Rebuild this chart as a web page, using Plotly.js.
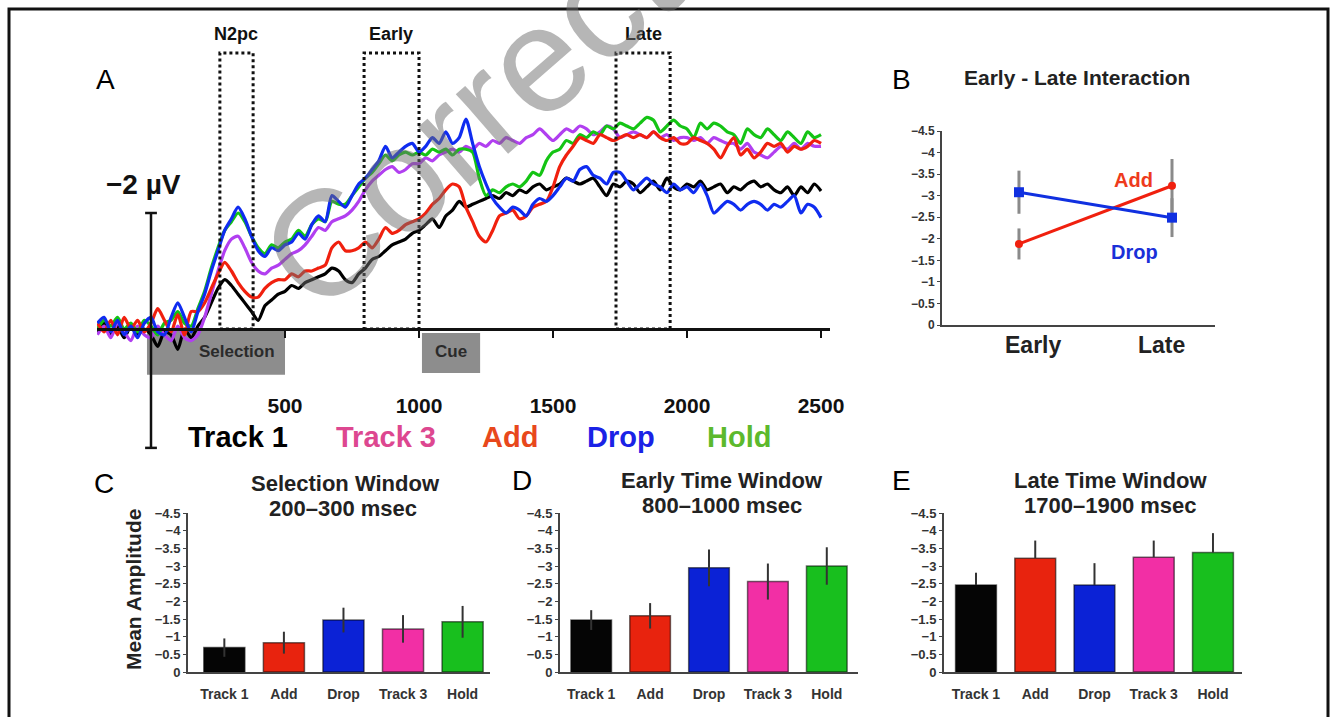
<!DOCTYPE html>
<html><head><meta charset="utf-8">
<script src="https://cdn.plot.ly/plotly-3.0.1.min.js"></script>
<style>html,body{margin:0;padding:0;background:#fff}#chart{width:1336px;height:717px}</style>
</head><body><div id="chart"></div>
<script>
// ---------- Panel A: ERP waveforms (µV, negative up) ----------
const timesMs = [
 -200,-175,-150,-125,-100,-75,-50,-25,
 0,25,50,75,100,125,150,175,
 200,225,250,275,300,325,350,375,
 400,425,450,475,500,525,550,575,
 600,625,650,675,700,725,750,775,
 800,825,850,875,900,925,950,975,
 1000,1025,1050,1075,1100,1125,1150,1175,
 1200,1225,1250,1275,1300,1325,1350,1375,
 1400,1425,1450,1475,1500,1525,1550,1575,
 1600,1625,1650,1675,1700,1725,1750,1775,
 1800,1825,1850,1875,1900,1925,1950,1975,
 2000,2025,2050,2075,2100,2125,2150,2175,
 2200,2225,2250,2275,2300,2325,2350,2375,
 2400,2425,2450,2475,2500];
const track1 = [
 0.05,-0.1,0.1,-0.05,0.15,-0.05,0.1,0.0,
 0.1,0.3,0.05,0.1,0.35,0.0,0.15,-0.05,
 -0.2,-0.45,-0.7,-0.85,-0.75,-0.6,-0.45,-0.3,
 -0.15,-0.4,-0.5,-0.6,-0.65,-0.75,-0.7,-0.8,
 -0.85,-0.9,-0.95,-1.05,-1.0,-0.85,-0.8,-0.95,
 -1.05,-1.2,-1.25,-1.35,-1.45,-1.5,-1.55,-1.65,
 -1.7,-1.8,-1.9,-1.75,-1.95,-2.05,-2.2,-2.1,
 -2.15,-2.2,-2.25,-2.3,-2.25,-2.35,-2.3,-2.4,
 -2.35,-2.45,-2.5,-2.4,-2.45,-2.5,-2.6,-2.55,
 -2.5,-2.55,-2.6,-2.45,-2.3,-2.5,-2.45,-2.55,
 -2.5,-2.35,-2.45,-2.55,-2.4,-2.6,-2.45,-2.4,
 -2.5,-2.45,-2.55,-2.4,-2.45,-2.5,-2.35,-2.45,
 -2.4,-2.5,-2.55,-2.45,-2.5,-2.4,-2.35,-2.45,
 -2.3,-2.45,-2.35,-2.5,-2.38];
const track3 = [
 0.1,-0.05,0.15,-0.1,0.05,0.2,-0.05,0.1,
 0.15,-0.05,0.1,0.2,-0.05,0.15,0.2,0.1,
 -0.2,-0.6,-1.0,-1.35,-1.55,-1.6,-1.4,-1.15,
 -1.0,-0.95,-1.05,-1.1,-1.2,-1.3,-1.35,-1.45,
 -1.6,-1.75,-1.7,-1.85,-1.9,-1.95,-2.05,-2.2,
 -2.4,-2.55,-2.65,-2.75,-2.8,-2.7,-2.75,-2.85,
 -2.85,-2.95,-2.9,-3.0,-3.05,-3.1,-3.05,-3.15,
 -3.1,-3.2,-3.15,-3.25,-3.2,-3.3,-3.25,-3.2,
 -3.3,-3.35,-3.45,-3.35,-3.25,-3.35,-3.45,-3.4,
 -3.5,-3.45,-3.35,-3.4,-3.5,-3.45,-3.3,-3.35,
 -3.4,-3.35,-3.3,-3.4,-3.3,-3.35,-3.25,-3.3,
 -3.3,-3.25,-3.3,-3.2,-3.3,-3.25,-3.2,-3.2,
 -3.1,-3.2,-3.05,-3.0,-2.95,-3.05,-3.15,-3.1,
 -3.2,-3.1,-3.2,-3.15,-3.15];
const addWave = [
 -0.1,0.05,-0.15,0.1,-0.2,0.0,-0.15,0.05,
 -0.1,-0.35,-0.15,0.05,-0.25,0.1,-0.3,-0.3,
 -0.45,-0.7,-0.95,-1.15,-1.0,-0.8,-0.65,-0.55,
 -0.55,-0.7,-0.8,-0.85,-0.85,-0.95,-0.9,-1.0,
 -1.0,-1.05,-1.1,-1.4,-1.5,-1.35,-1.35,-1.4,
 -1.5,-1.4,-1.55,-1.75,-1.65,-1.7,-1.8,-1.85,
 -1.9,-2.0,-2.15,-2.25,-2.4,-2.5,-2.45,-2.1,
 -1.85,-1.6,-1.5,-1.7,-1.95,-2.0,-2.05,-1.9,
 -1.95,-2.1,-2.15,-2.2,-2.45,-2.8,-3.0,-3.15,
 -3.3,-3.25,-3.2,-3.35,-3.3,-3.25,-3.3,-3.35,
 -3.3,-3.35,-3.3,-3.4,-3.3,-3.25,-3.3,-3.2,
 -3.2,-3.3,-3.25,-3.2,-3.1,-2.95,-3.15,-3.3,
 -3.0,-3.1,-2.95,-3.05,-3.2,-3.15,-3.2,-3.05,
 -3.15,-3.1,-3.15,-3.25,-3.2];
const dropWave = [
 -0.1,-0.2,0.05,-0.15,0.1,-0.05,0.15,-0.1,
 -0.2,0.05,0.1,-0.2,-0.45,-0.2,0.05,-0.3,
 -0.6,-1.0,-1.35,-1.7,-1.9,-2.1,-1.9,-1.6,
 -1.35,-1.25,-1.4,-1.35,-1.45,-1.5,-1.65,-1.55,
 -1.8,-1.95,-1.85,-2.3,-2.2,-2.1,-2.3,-2.5,
 -2.6,-2.75,-2.9,-3.15,-2.95,-3.05,-3.15,-3.2,
 -3.05,-3.15,-3.3,-3.2,-3.4,-3.2,-3.3,-3.62,
 -3.2,-2.8,-2.5,-2.25,-2.1,-2.0,-2.1,-2.05,
 -1.95,-2.15,-2.25,-2.2,-2.3,-2.45,-2.6,-2.55,
 -2.75,-2.8,-2.65,-2.6,-2.5,-2.7,-2.7,-2.55,
 -2.4,-2.5,-2.6,-2.5,-2.45,-2.35,-2.5,-2.4,
 -2.45,-2.35,-2.5,-2.3,-2.0,-2.1,-2.2,-2.15,
 -2.05,-2.15,-2.2,-2.15,-2.05,-2.15,-2.1,-2.2,
 -2.3,-2.0,-2.15,-2.1,-1.92];
const holdWave = [
 0.0,-0.15,-0.05,-0.2,0.0,-0.1,0.05,-0.15,
 -0.05,0.1,-0.1,-0.15,-0.3,-0.1,-0.05,-0.35,
 -0.65,-1.05,-1.4,-1.7,-1.85,-2.0,-1.85,-1.6,
 -1.4,-1.3,-1.45,-1.4,-1.5,-1.55,-1.7,-1.6,
 -1.8,-1.9,-1.85,-2.2,-2.15,-2.15,-2.3,-2.45,
 -2.6,-2.7,-2.85,-3.0,-2.9,-3.0,-3.05,-3.0,
 -3.05,-3.0,-3.1,-3.05,-3.1,-3.0,-3.1,-3.1,
 -3.05,-2.6,-2.3,-2.4,-2.35,-2.45,-2.5,-2.45,
 -2.55,-2.7,-2.65,-2.9,-3.05,-3.1,-3.25,-3.2,
 -3.35,-3.3,-3.4,-3.35,-3.5,-3.45,-3.55,-3.5,
 -3.45,-3.55,-3.65,-3.6,-3.4,-3.5,-3.6,-3.5,
 -3.45,-3.3,-3.55,-3.45,-3.55,-3.5,-3.4,-3.35,
 -3.2,-3.45,-3.35,-3.3,-3.45,-3.35,-3.25,-3.4,
 -3.3,-3.2,-3.4,-3.3,-3.35];
const waveTicks = [500, 1000, 1500, 2000, 2500];

// ---------- Panel B: Early - Late interaction ----------
const windows = ['Early', 'Late'];
const addMeans = [-1.88, -3.23];
const addErr = [0.36, 0.62];
const dropMeans = [-3.08, -2.49];
const dropErr = [0.5, 0.45];

// ---------- Panels C, D, E: mean amplitude bars ----------
const conditions = ['Track 1', 'Add', 'Drop', 'Track 3', 'Hold'];
const selectionMeans = [-0.69, -0.83, -1.47, -1.22, -1.42];
const selectionErr = [0.26, 0.31, 0.35, 0.39, 0.45];
const earlyMeans = [-1.47, -1.59, -2.95, -2.56, -3.0];
const earlyErr = [0.28, 0.36, 0.52, 0.51, 0.53];
const lateMeans = [-2.46, -3.22, -2.46, -3.25, -3.38];
const lateErr = [0.35, 0.5, 0.62, 0.47, 0.55];

const barColors = ['#050505', '#e8230e', '#0b22d6', '#f22fa5', '#18bf1e'];
const waveColors = {track1:'#000000', track3:'#b13ff0', add:'#f0200e', drop:'#0f2cf0', hold:'#14c414'};

// ---------- helpers ----------
const W = 1336, H = 717;
const px = X => X / W;
const py = Y => 1 - Y / H;
const FONT = 'Liberation Sans, Arial, Helvetica, sans-serif';

function ann(text, X, Y, size, color, bold, extra) {
  return Object.assign({
    text: text, xref: 'paper', yref: 'paper', x: px(X), y: py(Y),
    xanchor: 'center', yanchor: 'middle', showarrow: false,
    font: {family: FONT, size: size, color: color || '#000', weight: bold ? 'bold' : 'normal'}
  }, extra || {});
}

const traces = [];
// Panel A
[['track1', track1], ['track3', track3], ['hold', holdWave], ['add', addWave], ['drop', dropWave]].forEach(([k, v]) => {
  traces.push({x: timesMs, y: v, xaxis: 'x', yaxis: 'y', type: 'scatter', mode: 'lines',
    line: {color: waveColors[k], width: 3.2, shape: 'spline', smoothing: 0.7}, hoverinfo: 'skip', showlegend: false});
});
// Panel B
traces.push({x: windows, y: addMeans, xaxis: 'x2', yaxis: 'y2', type: 'scatter', mode: 'lines+markers',
  line: {color: '#f0200e', width: 3}, marker: {symbol: 'circle', size: 8, color: '#f0200e'},
  error_y: {type: 'data', array: addErr, visible: true, color: '#8a8a8a', thickness: 3, width: 0}, showlegend: false});
traces.push({x: windows, y: dropMeans, xaxis: 'x2', yaxis: 'y2', type: 'scatter', mode: 'lines+markers',
  line: {color: '#1030e0', width: 3}, marker: {symbol: 'square', size: 10, color: '#1030e0'},
  error_y: {type: 'data', array: dropErr, visible: true, color: '#8a8a8a', thickness: 3, width: 0}, showlegend: false});
// Panels C D E
function bars(means, errs, ax, upOnly) {
  const e = {type: 'data', array: errs, visible: true, color: '#333', thickness: 2, width: 0};
  if (upOnly) { e.symmetric = false; e.array = errs.map(() => 0); e.arrayminus = errs; }
  return {x: conditions, y: means, xaxis: 'x' + ax, yaxis: 'y' + ax, type: 'bar', width: 0.69,
    marker: {color: barColors, line: {color: 'rgba(0,0,0,0.55)', width: 1.5}}, error_y: e, showlegend: false};
}
traces.push(bars(selectionMeans, selectionErr, 3, false));
traces.push(bars(earlyMeans, earlyErr, 4, false));
traces.push(bars(lateMeans, lateErr, 5, true));

const barYaxis = (dom) => ({domain: dom, range: [0, -4.5], dtick: 0.5, tick0: 0, showgrid: false, zeroline: false,
  showline: true, linecolor: '#444', linewidth: 2, ticks: 'outside', ticklen: 3, tickcolor: '#444',
  tickfont: {family: FONT, size: 13, color: '#333', weight: 'bold'}});
const barXaxis = (dom, rng, anchor) => ({domain: dom, range: rng, anchor: anchor, type: 'category', showgrid: false, zeroline: false,
  showline: true, linecolor: '#444', linewidth: 2, ticks: '', ticklabelstandoff: 8,
  tickfont: {family: FONT, size: 14, color: '#333', weight: 'bold'}});

const barDom = [py(672), py(513)];

const layout = {
  width: W, height: H, margin: {l: 0, r: 0, t: 0, b: 0},
  paper_bgcolor: '#fff', plot_bgcolor: 'rgba(0,0,0,0)', showlegend: false,
  font: {family: FONT},
  xaxis: {domain: [px(97), px(830)], range: [-201.5, 2533.5], anchor: 'free', position: py(329),
    showline: true, linecolor: '#111', linewidth: 2.5, ticks: 'outside', ticklen: 7, tickwidth: 2.5, tickcolor: '#111',
    tickvals: waveTicks, ticklabelstandoff: 50, showgrid: false, zeroline: false,
    tickfont: {family: FONT, size: 21, color: '#111', weight: 'bold'}},
  yaxis: {domain: [py(460), py(40)], range: [2.259, -4.983], visible: false, anchor: 'x'},
  xaxis2: {domain: [px(942), px(1215)], range: [-0.503, 1.281], type: 'category', anchor: 'y2', showgrid: false, zeroline: false,
    showline: true, linecolor: '#444', linewidth: 2, ticks: '', showticklabels: false},
  yaxis2: {domain: [py(325), py(131)], range: [0, -4.5], dtick: 0.5, tick0: 0, anchor: 'x2', showgrid: false, zeroline: false,
    showline: true, linecolor: '#444', linewidth: 2, ticks: 'outside', ticklen: 3, tickcolor: '#444',
    tickfont: {family: FONT, size: 12, color: '#333', weight: 'bold'}},
  xaxis3: barXaxis([px(188), px(490)], [-0.61, 4.46], 'y3'),
  yaxis3: Object.assign(barYaxis(barDom), {anchor: 'x3'}),
  xaxis4: barXaxis([px(560), px(858)], [-0.53, 4.53], 'y4'),
  yaxis4: Object.assign(barYaxis(barDom), {anchor: 'x4'}),
  xaxis5: barXaxis([px(944), px(1242)], [-0.54, 4.49], 'y5'),
  yaxis5: Object.assign(barYaxis(barDom), {anchor: 'x5'}),
  shapes: [
    // figure frame
    {type: 'rect', xref: 'paper', yref: 'paper', x0: px(9), x1: px(1328), y0: py(730), y1: py(9), line: {color: '#111', width: 3}},
    // event boxes
    {type: 'rect', xref: 'x', yref: 'y', x0: -15, x1: 500, y0: 0.02, y1: 0.79, fillcolor: '#8d8d8d', line: {width: 0}, layer: 'below'},
    {type: 'rect', xref: 'x', yref: 'y', x0: 1011, x1: 1228, y0: 0.07, y1: 0.76, fillcolor: '#8d8d8d', line: {width: 0}, layer: 'below'},
    // analysis windows
    {type: 'rect', xref: 'x', yref: 'y', x0: 257, x1: 381, y0: 0, y1: -4.76, line: {color: '#111', width: 3, dash: 'dot'}},
    {type: 'rect', xref: 'x', yref: 'y', x0: 795, x1: 1000, y0: 0, y1: -4.76, line: {color: '#111', width: 3, dash: 'dot'}},
    {type: 'rect', xref: 'x', yref: 'y', x0: 1735, x1: 1937, y0: 0, y1: -4.76, line: {color: '#111', width: 3, dash: 'dot'}},
    // scale bar
    {type: 'line', xref: 'x', yref: 'y', x0: 0, x1: 0, y0: -2, y1: 2.05, line: {color: '#111', width: 2.5}},
    {type: 'line', xref: 'x', yref: 'y', x0: -22, x1: 22, y0: -2, y1: -2, line: {color: '#111', width: 2.5}},
    {type: 'line', xref: 'x', yref: 'y', x0: -22, x1: 22, y0: 2.05, y1: 2.05, line: {color: '#111', width: 2.5}}
  ],
  annotations: [
    ann('A', 105, 80, 28, '#000', false),
    ann('N2pc', 236, 34, 18, '#111', true),
    ann('Early', 391, 34, 18, '#111', true),
    ann('Late', 643, 34, 18, '#111', true),
    ann('\u22122 \u00b5V', 143, 184, 28, '#111', true),
    ann('Selection', 237, 352, 17, '#2a2a2a', true),
    ann('Cue', 451, 352, 17, '#2a2a2a', true),
    ann('Track 1', 238, 437, 29, '#000', true),
    ann('Track 3', 386, 437, 29, '#dd4790', true),
    ann('Add', 510, 437, 29, '#e8481c', true),
    ann('Drop', 621, 437, 29, '#1a22e6', true),
    ann('Hold', 739, 437, 29, '#5cb92d', true),
    ann('B', 901, 80, 28, '#000', false),
    ann('Early - Late Interaction', 1077, 77, 21, '#222', true),
    ann('Add', 1133, 180, 20, '#ee3a1c', true),
    ann('Drop', 1134, 252, 20, '#1a30d8', true),
    ann('Early', 1033, 345, 23, '#222', true),
    ann('Late', 1161, 345, 23, '#222', true),
    ann('C', 104, 483, 28, '#000', false),
    ann('Selection Window', 345, 483, 22, '#222', true),
    ann('200\u2013300 msec', 343, 508, 22, '#222', true),
    ann('D', 522, 480, 28, '#000', false),
    ann('Early Time Window', 722, 480, 22, '#222', true),
    ann('800\u20131000 msec', 722, 506, 22, '#222', true),
    ann('E', 901, 480, 28, '#000', false),
    ann('Late Time Window', 1110, 480, 22, '#222', true),
    ann('1700\u20131900 msec', 1110, 506, 22, '#222', true),
    ann('Mean Amplitude', 133, 590, 21, '#222', true, {textangle: -90}),
    ann('Corrected', 532, 64, 150, 'rgba(110,110,110,0.5)', false, {textangle: -41})
  ]
};

Plotly.newPlot('chart', traces, layout, {displayModeBar: false, staticPlot: true});
</script>
</body></html>
